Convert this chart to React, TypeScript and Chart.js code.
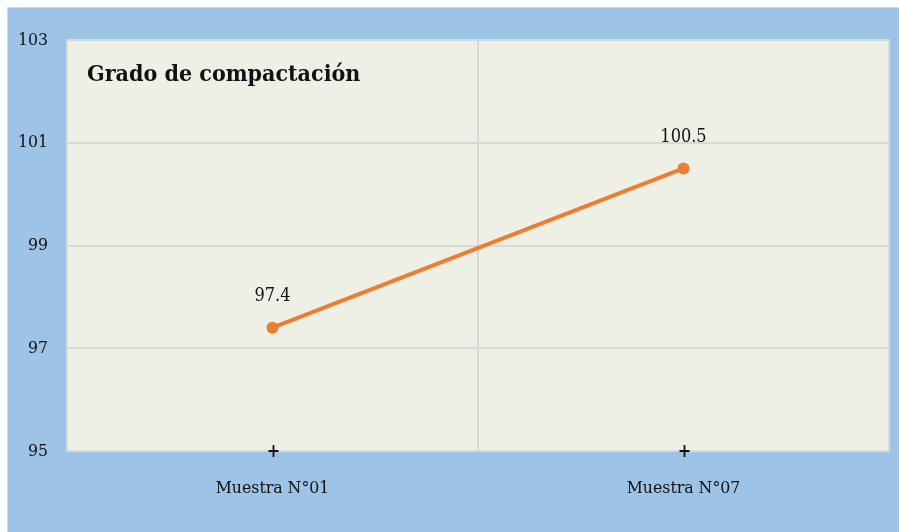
import React, { useEffect, useRef } from "react";
import { Chart, registerables } from "chart.js";

Chart.register(...registerables);

const categories = ["Muestra N°01", "Muestra N°07"];
const compactionValues = [97.4, 100.5];
const yTicks = [95, 97, 99, 101, 103];
const chartTitle = "Grado de compactación";

const FONT = "'DejaVu Serif Condensed', 'DejaVu Serif', 'Liberation Serif', serif";
const GRID = "#d9d9d9";
const PLOT_BG = "#eef0e6";
const OUTER_BG = "#9dc3e6";
const LINE = "#ed7d31";

const plotDecor = {
  id: "plotDecor",
  beforeDraw(chart: any) {
    const { ctx, chartArea: a } = chart;
    ctx.save();
    ctx.fillStyle = PLOT_BG;
    ctx.fillRect(a.left, a.top, a.right - a.left, a.bottom - a.top);
    ctx.restore();
  },
  afterDatasetsDraw(chart: any) {
    const { ctx, chartArea: a } = chart;
    const x = chart.scales.x;
    ctx.save();
    // plot border
    ctx.strokeStyle = GRID;
    ctx.lineWidth = 2;
    ctx.strokeRect(a.left, a.top, a.right - a.left, a.bottom - a.top);
    // cross tick marks at each category
    ctx.strokeStyle = "#111";
    ctx.lineWidth = 1.8;
    categories.forEach((_, i) => {
      const px = Math.round(x.getPixelForValue(i)) + 0.5;
      ctx.beginPath();
      ctx.moveTo(px, a.bottom - 6);
      ctx.lineTo(px, a.bottom + 6);
      ctx.moveTo(px - 5, a.bottom);
      ctx.lineTo(px + 5, a.bottom);
      ctx.stroke();
    });
    // value labels
    const meta = chart.getDatasetMeta(0);
    ctx.fillStyle = "#111";
    ctx.font = `18px ${FONT}`;
    ctx.textAlign = "center";
    ctx.textBaseline = "middle";
    meta.data.forEach((pt: any, i: number) => {
      ctx.fillText(String(compactionValues[i]), pt.x, pt.y - 31);
    });
    // title inside plot
    ctx.font = `bold 23px ${FONT}`;
    ctx.textAlign = "left";
    ctx.fillText(chartTitle, a.left + 20, a.top + 35);
    ctx.restore();
  },
};

export default function App() {
  const ref = useRef<HTMLCanvasElement>(null);

  useEffect(() => {
    if (!ref.current) return;
    const chart = new Chart(ref.current, {
      type: "line",
      data: {
        labels: categories,
        datasets: [
          {
            data: compactionValues,
            borderColor: LINE,
            backgroundColor: LINE,
            borderWidth: 4,
            pointRadius: 6,
            pointHoverRadius: 6,
            pointBackgroundColor: LINE,
            pointBorderWidth: 0,
          },
        ],
      },
      options: {
        responsive: false,
        animation: false,
        layout: { padding: { top: 32, right: 11, left: 0, bottom: 0 } },
        plugins: {
          legend: { display: false },
          tooltip: { enabled: false },
          title: { display: false },
        },
        scales: {
          x: {
            offset: true,
            grid: { color: GRID, lineWidth: 2, offset: true, drawTicks: false },
            border: { display: false },
            ticks: { color: "#111", font: { family: FONT, size: 17.5 }, padding: 27 },
            afterFit(scale: any) {
              scale.height = 82;
            },
          },
          y: {
            min: 95,
            max: 103,
            afterBuildTicks(scale: any) {
              scale.ticks = yTicks.map((v) => ({ value: v }));
            },
            grid: { color: GRID, lineWidth: 2, drawTicks: false },
            border: { display: false },
            ticks: { color: "#111", font: { family: FONT, size: 17.5 }, padding: 19 },
            afterFit(scale: any) {
              scale.width = 59;
            },
          },
        },
      },
      plugins: [plotDecor],
    });
    return () => chart.destroy();
  }, []);

  return (
    <div
      style={{
        position: "absolute",
        left: 7,
        top: 7,
        border: "1px solid #d9d9d9",
        background: OUTER_BG,
        width: 892,
        height: 525,
        lineHeight: 0,
      }}
    >
      <canvas ref={ref} width={892} height={525} style={{ display: "block" }} />
    </div>
  );
}
